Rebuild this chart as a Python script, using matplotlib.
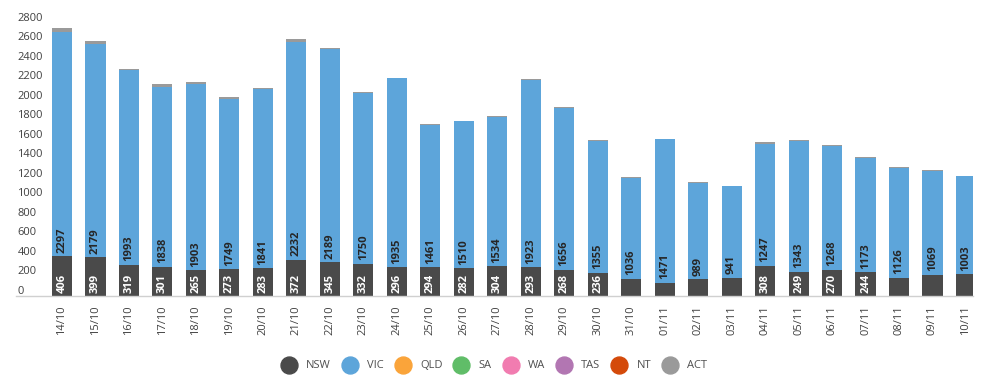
import matplotlib
matplotlib.use('Agg')
import matplotlib.pyplot as plt
import matplotlib.transforms as mtransforms
from matplotlib.lines import Line2D
import numpy as np

plt.rcParams['font.family'] = ['Open Sans', 'DejaVu Sans']

dates = ['14/10', '15/10', '16/10', '17/10', '18/10', '19/10', '20/10', '21/10', '22/10',
         '23/10', '24/10', '25/10', '26/10', '27/10', '28/10', '29/10', '30/10', '31/10',
         '01/11', '02/11', '03/11', '04/11', '05/11', '06/11', '07/11', '08/11', '09/11', '10/11']

nsw = [406, 399, 319, 301, 265, 273, 283, 372, 345, 332, 296, 294, 282, 304, 293, 268, 236,
       177, 135, 173, 185, 308, 249, 270, 244, 187, 216, 222]
vic = [2297, 2179, 1993, 1838, 1903, 1749, 1841, 2232, 2189, 1750, 1935, 1461, 1510, 1534,
       1923, 1656, 1355, 1036, 1471, 989, 941, 1247, 1343, 1268, 1173, 1126, 1069, 1003]
qld = [0, 0, 0, 0, 0, 0, 0, 0, 0, 0, 0, 0, 0, 0, 0, 0, 0, 0, 0, 0, 0, 3, 0, 0, 0, 0, 0, 0]
sa = [0] * 28
wa = [0] * 28
tas = [0] * 28
nt = [0, 0, 0, 0, 0, 0, 0, 0, 0, 0, 0, 0, 0, 0, 0, 0, 0, 0, 0, 0, 0, 0, 0, 0, 0, 0, 0, 0]
act = [40, 38, 15, 35, 20, 15, 12, 30, 10, 8, 5, 5, 5, 5, 5, 8, 5, 5, 5, 5, 5, 18, 8, 12, 5, 5, 5, 5]

states = ['NSW', 'VIC', 'QLD', 'SA', 'WA', 'TAS', 'NT', 'ACT']
series = [nsw, vic, qld, sa, wa, tas, nt, act]
colors = ['#4a4a4a', '#5da5da', '#faa43a', '#60bd68', '#f17cb0', '#b276b2', '#d44a0a', '#9a9a9a']

fig = plt.figure(figsize=(9.92, 3.81), dpi=100)
ax = fig.add_axes([16 / 992, 85 / 381, 957 / 992, 273.3 / 381])

x = np.arange(len(dates))
bottom = np.zeros(len(dates))
for name, vals, c in zip(states, series, colors):
    ax.bar(x, vals, 0.6, bottom=bottom, color=c, linewidth=0)
    bottom += np.array(vals)

# value labels inside NSW and VIC segments (small NSW segments left unlabeled)
for i in x:
    if nsw[i] >= 230:
        ax.annotate(str(nsw[i]), (i, 0), xytext=(0, 2), textcoords='offset points',
                    rotation=90, ha='center', va='bottom', color='white',
                    fontsize=8, fontweight='bold')
    ax.annotate(str(vic[i]), (i, nsw[i]), xytext=(0, 2.5), textcoords='offset points',
                rotation=90, ha='center', va='bottom', color='#262626',
                fontsize=8, fontweight='bold')

ax.set_xlim(-1.374, 27.21)
ax.set_ylim(0, 2800)
ax.set_xticks(x)
ax.set_xticklabels(dates, rotation=90, fontsize=8, color='#404040')
ax.set_yticks(np.arange(0, 2801, 200))
ax.tick_params(axis='x', length=0, pad=6.5)
ax.tick_params(axis='y', length=0, pad=-1, labelsize=8, labelcolor='#404040')
offset = mtransforms.ScaledTranslation(0, 6 / 100, fig.dpi_scale_trans)
for lab in ax.get_yticklabels():
    lab.set_ha('left')
    lab.set_transform(lab.get_transform() + offset)

for s in ['top', 'right', 'left']:
    ax.spines[s].set_visible(False)
ax.spines['bottom'].set_color('#d0d0d0')
ax.spines['bottom'].set_linewidth(1)

handles = [Line2D([], [], marker='o', linestyle='', markersize=12.2,
                  markerfacecolor=c, markeredgecolor=c) for c in colors]
fig.legend(handles, states, loc='center', bbox_to_anchor=(494 / 992, 1 - 366 / 381),
           ncol=8, frameon=False, fontsize=8, handlelength=1.5, handletextpad=0.8,
           columnspacing=0.96, labelcolor='#505050')

fig.savefig('out.png', dpi=100)
